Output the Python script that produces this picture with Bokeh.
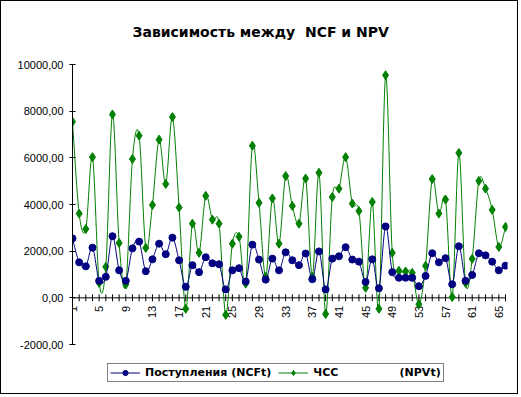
import numpy as np
from bokeh.plotting import figure
from bokeh.models import (FixedTicker, CustomJSTickFormatter, Legend, LegendItem,
                          Range1d, Label)
from bokeh.core.properties import value
from bokeh.embed import file_html
from bokeh.resources import INLINE

# ---------------- data ----------------
periods = list(range(1, 67))
ncf = [2550, 1520, 1350, 2150, 730, 900, 2640, 1180, 730, 2120,
       2410, 1140, 1650, 2320, 1870, 2580, 1610, 470, 1400, 1100,
       1740, 1480, 1440, 360, 1180, 1270, 700, 2280, 1640, 780,
       1680, 1180, 1950, 1610, 1400, 1900, 800, 1990, 360, 1680,
       1780, 2170, 1640, 1550, 680, 1650, 410, 3060, 1100, 860,
       860, 860, 500, 940, 1910, 1520, 1700, 580, 2210, 730,
       980, 1910, 1820, 1550, 1180, 1380]
npv = [7550, 3610, 2950, 6030, 640, 1330, 7860, 2350, 570, 5950,
       6950, 2140, 3980, 6780, 4880, 7750, 3870, -470, 3180, 1930,
       4370, 3350, 3180, -730, 2320, 2620, 610, 6520, 4070, 900,
       4260, 2320, 5220, 3940, 3180, 5110, 900, 5360, -690, 4320,
       4680, 6030, 4040, 3720, 430, 4110, -470, 9540, 1930, 1160,
       1130, 1070, -270, 1370, 5090, 3610, 4210, 40, 6210, 640,
       1670, 5010, 4680, 3770, 2180, 3040]
y_ticks = [-2000, 0, 2000, 4000, 6000, 8000, 10000]
x_label_ticks = list(range(1, 67, 4))
x_labels = [str(v) for v in x_label_ticks]
title_text = "Зависимость между\u00a0 NCF и NPV"
label_ncf = "Поступления (NCFt)"
label_npv = "ЧСС" + "\u00a0" * 16 + "(NPVt)"

BLUE = "#000080"
GREEN = "#008000"
FONT = "Liberation Sans"
BOLD_FONT = "DejaVu Sans"

# layout (pixels)
W, H = 518, 394
LEFT, RIGHT = 71, 12
AX_TOP, AX_BOTTOM = 63, 343          # pixel rows of 10000 and -2000
Y_MIN, Y_MAX = y_ticks[0], y_ticks[-1]
per_px = (Y_MAX - Y_MIN) / (AX_BOTTOM - AX_TOP)
y_lo = Y_MIN - (H - AX_BOTTOM) * per_px
y_hi = Y_MAX + AX_TOP * per_px


def smooth(xs, ys, n=12):
    """Catmull-Rom (Excel-like) smoothing drawn through the data points."""
    P = np.column_stack([np.asarray(xs, float), np.asarray(ys, float)])
    m = len(P)
    out = []
    t = np.linspace(0, 1, n, endpoint=False)[:, None]
    for i in range(m - 1):
        p0 = P[i - 1] if i > 0 else P[i]
        p1 = P[i]
        p2 = P[i + 1]
        p3 = P[i + 2] if i + 2 < m else P[i + 1]
        b1 = p1 + (p2 - p0) / 6.0
        b2 = p2 - (p3 - p1) / 6.0
        seg = ((1 - t) ** 3) * p1 + 3 * ((1 - t) ** 2) * t * b1 + 3 * (1 - t) * t ** 2 * b2 + t ** 3 * p2
        out.append(seg)
    out.append(P[-1][None, :])
    arr = np.vstack(out)
    return arr[:, 0], arr[:, 1]


p = figure(width=W, height=H, output_backend="svg", toolbar_location=None,
           x_range=Range1d(1, 66.3), y_range=Range1d(y_lo, y_hi),
           x_axis_location=None,
           min_border_left=LEFT, min_border_right=RIGHT, min_border_top=0,
           min_border_bottom=0)
p.styles = {"border": "1px solid black"}

p.xgrid.visible = False
p.ygrid.visible = False
p.outline_line_color = None
p.background_fill_color = "white"
p.border_fill_color = "white"

# y axis
p.yaxis.ticker = FixedTicker(ticks=y_ticks, minor_ticks=[])
p.yaxis.bounds = (Y_MIN, Y_MAX)
p.yaxis.formatter = CustomJSTickFormatter(code="return tick.toFixed(2).replace('.', ',');")
p.yaxis.major_tick_out = 3
p.yaxis.major_tick_in = 3
p.yaxis.minor_tick_line_color = None
p.yaxis.major_label_standoff = 6
p.yaxis.major_label_text_font = FONT
p.yaxis.major_label_text_font_size = "11px"
p.yaxis.major_label_text_color = "black"
p.yaxis.axis_line_color = "black"
p.yaxis.major_tick_line_color = "black"

# category axis crossing at 0
p.segment(x0=[periods[0]], y0=[0], x1=[periods[-1]], y1=[0], line_color="black", line_width=1)
p.scatter(periods, [0] * len(periods), marker="dash", angle=np.pi / 2, size=7,
          line_color="black", line_width=1)
p.text(x=x_label_ticks, y=[0] * len(x_label_ticks), text=x_labels, angle=np.pi / 2,
       text_align="right", text_baseline="middle", y_offset=8,
       text_font=value(FONT), text_font_size="11px", text_color="black")

# series
sx1, sy1 = smooth(periods, ncf)
sx2, sy2 = smooth(periods, npv)
l2 = p.line(sx2, sy2, line_color=GREEN, line_width=1)
s2 = p.scatter(periods, npv, marker="diamond", size=9, fill_color=GREEN, line_color=GREEN)
l1 = p.line(sx1, sy1, line_color=BLUE, line_width=1)
s1 = p.scatter(periods, ncf, marker="circle", size=7, fill_color=BLUE, line_color=BLUE)

# title
p.add_layout(Label(x=60, y=H - 30, x_units="screen", y_units="screen", text=title_text,
                   text_font=BOLD_FONT, text_font_size="14px", text_font_style="bold",
                   text_color="black", text_baseline="alphabetic", text_align="left"))

legend = Legend(items=[LegendItem(label=label_ncf, renderers=[l1, s1]),
                       LegendItem(label=label_npv, renderers=[l2, s2])],
                orientation="horizontal", location=(35, H - 381),
                border_line_color="black", border_line_width=1,
                background_fill_color="white", background_fill_alpha=1,
                padding=2, margin=0, spacing=7, label_standoff=5,
                glyph_width=30, glyph_height=13, label_height=13,
                label_text_font=BOLD_FONT, label_text_font_size="11px",
                label_text_font_style="bold", label_text_color="black")
p.add_layout(legend, "center")

open("out.html", "w").write(file_html(p, INLINE))
